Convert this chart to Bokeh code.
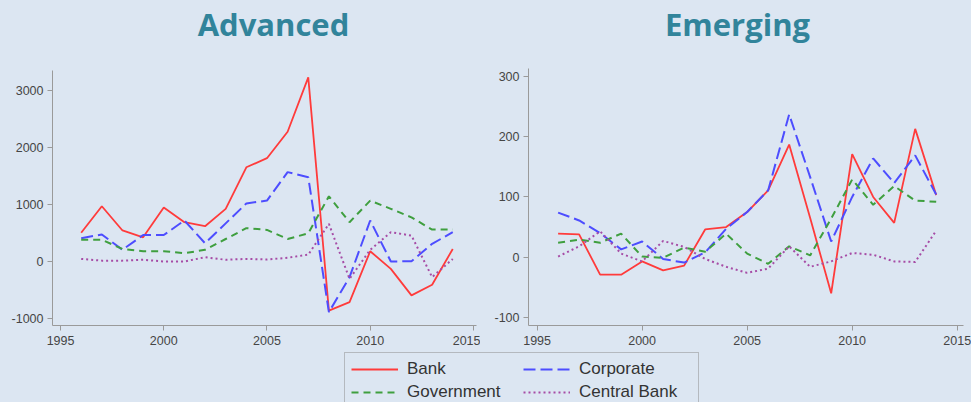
from bokeh.plotting import figure
from bokeh.layouts import row, column
from bokeh.models import Legend, LegendItem, FixedTicker, GlobalInlineStyleSheet, Label
from bokeh.embed import file_html
from bokeh.resources import INLINE

years = list(range(1996, 2015))

adv_bank = [500, 965, 540, 420, 945, 685, 615, 920, 1650, 1810, 2275, 3230, -870, -720, 175, -135, -600, -415, 215]
adv_corp = [405, 470, 200, 460, 460, 715, 315, 665, 1015, 1065, 1565, 1475, -895, -280, 715, -5, 0, 305, 510]
adv_gov = [375, 375, 215, 175, 175, 140, 200, 390, 580, 550, 390, 490, 1140, 685, 1065, 920, 770, 555, 555]
adv_cb = [40, 10, 10, 25, -5, -5, 70, 25, 40, 30, 60, 115, 655, -310, 200, 510, 450, -280, 40]

em_bank = [39, 38, -29, -29, -7, -22, -14, 46, 50, 75, 111, 187, 65, -60, 171, 100, 57, 213, 103]
em_corp = [74, 61, 40, 13, 26, -3, -9, 8, 47, 75, 111, 237, 133, 26, 100, 164, 123, 169, 104]
em_gov = [24, 29, 24, 39, 1, -1, 16, 9, 39, 6, -11, 18, 3, 64, 129, 87, 118, 94, 92]
em_cb = [1, 18, 43, 6, -7, 27, 17, -3, -16, -26, -19, 18, -16, -7, 7, 4, -7, -8, 44]

x_ticks = [1995, 2000, 2005, 2010, 2015]
adv_yticks = [-1000, 0, 1000, 2000, 3000]
em_yticks = [-100, 0, 100, 200, 300]

series_labels = ["Bank", "Corporate", "Government", "Central Bank"]
panel_titles = ["Advanced", "Emerging"]

BG = "#dce6f2"
TITLE_COLOR = "#31849b"
STYLES = [
    dict(line_color="#ff3b3b", line_width=1.8, line_dash="solid"),
    dict(line_color="#4d4dff", line_width=2.0, line_dash="12 5"),
    dict(line_color="#3f9f3f", line_width=2.0, line_dash="7 5"),
    dict(line_color="#a64ca6", line_width=2.0, line_dash="2 3"),
]


def make_panel(title, title_x, series, x_rng, y_rng, y_bounds, yticks, w, h, bl, br, bb):
    p = figure(x_range=x_rng, y_range=y_rng, width=w, height=h,
               min_border_left=bl, min_border_right=br, min_border_top=0, min_border_bottom=bb,
               output_backend="svg", toolbar_location=None,
               background_fill_color=BG, border_fill_color=BG)
    p.outline_line_color = None
    p.grid.visible = False
    for ax in (p.xaxis[0], p.yaxis[0]):
        ax.axis_line_color = "#9a9a9a"
        ax.major_tick_line_color = "#9a9a9a"
        ax.minor_tick_line_color = None
        ax.major_tick_out = 5
        ax.major_tick_in = 0
        ax.major_label_text_font = "Liberation Sans"
        ax.major_label_text_font_size = "12.5px"
        ax.major_label_text_color = "#454545"
    p.yaxis.bounds = y_bounds
    p.xaxis.ticker = FixedTicker(ticks=x_ticks)
    p.yaxis.ticker = FixedTicker(ticks=yticks)
    p.xaxis.major_label_standoff = 5
    p.yaxis.major_label_standoff = 4
    p.yaxis.major_label_overrides = {t: str(t) for t in yticks}
    p.xaxis.major_label_overrides = {t: str(t) for t in x_ticks}
    for vals, st in zip(series, STYLES):
        p.line(years, vals, **st)
    frame_h = h - bb
    p.add_layout(Label(x=title_x, y=frame_h - 23, x_units="screen", y_units="screen",
                       text=title, text_align="center", text_baseline="alphabetic",
                       text_font="Open Sans", text_font_style="bold",
                       text_font_size="31px", text_color=TITLE_COLOR))
    return p


left = make_panel(panel_titles[0], 221, [adv_bank, adv_corp, adv_gov, adv_cb],
                  (1994.61, 2015.15), (-1130, 4581), (-1130, 3351), adv_yticks,
                  480, 350, 52, 4, 25)
right = make_panel(panel_titles[1], 209, [em_bank, em_corp, em_gov, em_cb],
                   (1994.59, 2015.3), (-113.4, 426.1), (-113.4, 313), em_yticks,
                   491, 350, 48, 8, 25)

leg = figure(width=971, height=52, x_range=(0, 1), y_range=(0, 1),
             x_axis_location=None, y_axis_location=None,
             min_border=0, output_backend="svg", toolbar_location=None,
             background_fill_color=BG, border_fill_color=BG)
leg.outline_line_color = None
leg.grid.visible = False
items = []
for lab, st in zip(series_labels, STYLES):
    r = leg.line([-10, -9], [-10, -10], **st)
    items.append(LegendItem(label=lab, renderers=[r]))
legend = Legend(items=items, orientation="horizontal", ncols=2,
                location=(344, -7),
                glyph_width=47, glyph_height=20, label_height=20, label_width=113,
                label_standoff=9, spacing=3, padding=6, margin=0,
                label_text_font="Liberation Sans", label_text_font_size="17px",
                label_text_color="#333333",
                border_line_color="#8c8c8c", border_line_width=1,
                background_fill_color=BG, background_fill_alpha=1.0)
leg.add_layout(legend, "center")

layout = column(row(left, right, spacing=0), leg, spacing=0,
                stylesheets=[GlobalInlineStyleSheet(css="body { background: #dce6f2; }")])

open("out.html", "w").write(file_html(layout, INLINE))
